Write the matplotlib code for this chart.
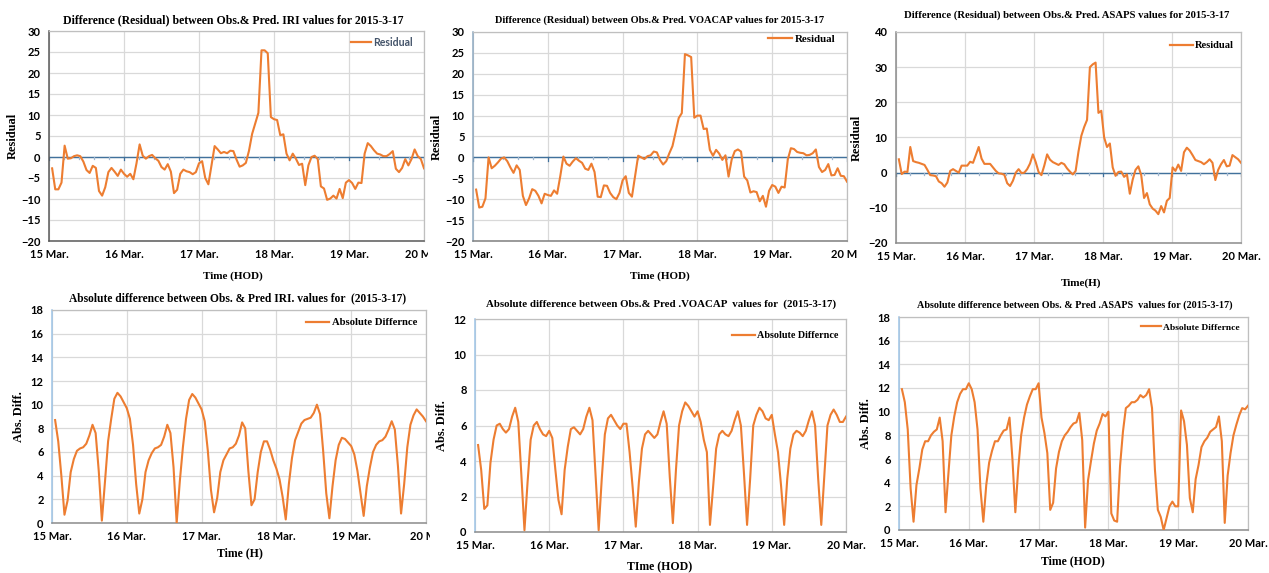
import numpy as np
import matplotlib
matplotlib.use("Agg")
import matplotlib.pyplot as plt
from matplotlib.transforms import Bbox

# ---------------- data ----------------
day_labels = ["15 Mar.", "16 Mar.", "17 Mar.", "18 Mar.", "19 Mar.", "20 Mar."]
day_labels_clip2 = ["15 Mar.", "16 Mar.", "17 Mar.", "18 Mar.", "19 Mar.", "20 Ma"]

iri_res = [-2.7, -7.7, -7.7, -6.1, 2.7, -0.4, -0.3, 0.2, 0.4, 0.2, -1.1, -3.1, -3.8, -2.1, -2.6,
           -8.1, -9.2, -7.2, -3.6, -2.6, -3.5, -4.5, -3.0, -4.0, -4.7, -4.0, -5.3, -1.5, 3.0, 0.3,
           -0.4, 0.2, 0.5, -0.3, -0.9, -2.4, -3.0, -1.7, -3.5, -8.6, -7.8, -4.0, -3.0, -3.4, -3.6,
           -4.1, -3.6, -1.5, -1.0, -5.0, -6.5, -2.0, 2.6, 1.8, 0.9, 1.2, 0.9, 1.5, 1.4, -0.6,
           -2.3, -2.0, -1.4, 1.5, 5.5, 8.0, 10.5, 25.4, 25.4, 24.7, 9.5, 9.0, 8.8, 5.2, 5.4,
           0.8, -0.8, 0.8, -0.4, -1.9, -1.6, -6.7, -2.0, 0.0, 0.3, -0.5, -7.0, -7.5, -10.2, -9.9,
           -9.2, -9.9, -7.6, -9.8, -6.1, -5.5, -6.2, -7.6, -6.1, -6.2, 0.8, 3.3, 2.6, 1.6, 0.8,
           0.6, 0.2, 0.2, 0.7, 1.4, -2.8, -3.6, -2.6, -0.5, -2.0, -0.5, 1.8, 0.2, -0.5, -2.7]

voacap_res = [-7.7, -12.0, -11.8, -9.8, 0.0, -2.6, -2.0, -1.2, -0.3, 0.0, -0.9, -2.4, -3.7, -1.9,
              -3.0, -9.2, -11.4, -9.8, -7.6, -8.0, -9.2, -11.0, -8.7, -9.0, -9.2, -7.9, -8.7, -4.5,
              0.2, -1.5, -2.0, -1.0, -0.2, -0.8, -1.3, -2.7, -3.0, -1.5, -3.5, -9.4, -9.5, -6.7,
              -6.8, -8.5, -9.5, -10.0, -8.5, -5.5, -4.5, -8.5, -9.4, -4.5, 0.4, 0.0, -0.4, 0.3,
              0.5, 1.4, 1.2, -0.6, -1.7, -0.9, 1.0, 2.7, 6.0, 9.4, 10.6, 24.7, 24.4, 24.0, 9.5,
              10.0, 10.0, 6.8, 6.9, 1.8, 0.4, 1.8, 0.9, -0.6, 0.5, -4.6, -0.5, 1.5, 1.9, 1.4,
              -4.6, -5.5, -8.4, -8.1, -8.3, -10.5, -9.2, -11.8, -8.0, -6.6, -7.0, -8.5, -7.0,
              -7.2, -0.5, 2.2, 2.0, 1.3, 1.1, 1.0, 0.5, 0.6, 1.0, 1.9, -2.3, -3.5, -3.0, -1.6,
              -4.3, -4.2, -2.6, -4.4, -4.5, -5.8]

asaps_res = [3.8, -0.4, 0.3, 0.2, 7.3, 3.3, 3.0, 2.8, 2.5, 2.2, 0.8, -0.7, -0.8, -1.0, -2.5, -3.0,
             -4.0, -2.8, 0.5, 1.0, 0.5, 0.0, 2.0, 2.0, 2.0, 3.1, 2.8, 5.0, 7.3, 4.0, 2.5, 2.5, 2.5,
             1.5, 0.5, -0.2, -0.3, -0.6, -3.0, -3.8, -2.3, 0.0, 1.0, -0.1, 0.0, 1.0, 2.6, 5.2,
             3.0, 0.2, -0.7, 2.0, 5.2, 3.7, 3.0, 2.6, 2.2, 2.8, 2.4, 1.2, 0.3, -0.5, 0.5, 6.0,
             10.5, 13.0, 15.0, 30.0, 30.8, 31.3, 17.0, 17.6, 10.0, 7.3, 8.3, 1.5, -0.9, 0.2, 0.3,
             -1.2, -0.5, -6.0, -2.0, 0.8, 1.8, -0.7, -7.2, -5.8, -9.0, -10.2, -10.8, -11.8, -9.5,
             -11.3, -8.0, -7.2, 1.5, 0.5, 2.3, 0.5, 5.8, 7.1, 6.3, 5.0, 3.6, 3.3, 3.0, 2.4, 3.0,
             3.8, 2.8, -2.1, 0.8, 2.4, 3.6, 1.8, 2.0, 5.0, 4.4, 3.8, 2.8]

iri_abs = [8.7, 6.9, 4.0, 0.7, 1.9, 4.3, 5.4, 6.1, 6.3, 6.4, 6.7, 7.4, 8.3, 7.6, 4.4, 0.2, 3.5,
           6.9, 8.8, 10.5, 11.0, 10.7, 10.2, 9.7, 8.8, 6.6, 3.3, 0.8, 2.0, 4.3, 5.3, 5.9, 6.3,
           6.4, 6.6, 7.3, 8.3, 7.6, 4.7, 0.0, 3.5, 6.4, 8.8, 10.4, 10.9, 10.6, 10.1, 9.6, 8.6,
           6.1, 2.8, 0.9, 2.1, 4.3, 5.3, 5.8, 6.3, 6.4, 6.7, 7.4, 8.5, 8.0, 4.4, 1.5, 2.0, 4.3,
           6.0, 6.9, 6.9, 6.2, 5.3, 4.6, 3.7, 2.2, 0.3, 3.3, 5.5, 7.0, 7.7, 8.4, 8.7, 8.8, 8.9,
           9.3, 10.0, 9.2, 6.1, 2.5, 0.4, 3.1, 5.3, 6.6, 7.2, 7.1, 6.8, 6.5, 5.8, 4.4, 2.5, 0.6,
           3.1, 4.7, 6.0, 6.6, 6.9, 7.0, 7.3, 7.9, 8.6, 7.9, 4.8, 0.8, 3.3, 6.4, 8.3, 9.1, 9.6,
           9.3, 9.0, 8.6]

voacap_abs = [4.9, 3.5, 1.3, 1.5, 3.9, 5.2, 6.0, 6.1, 5.8, 5.6, 5.8, 6.5, 7.0, 6.2, 3.2, 0.1,
              2.8, 5.2, 6.0, 6.2, 5.8, 5.5, 5.4, 5.7, 5.3, 3.5, 1.8, 1.0, 3.5, 4.8, 5.8, 5.9, 5.7,
              5.5, 5.8, 6.5, 7.0, 6.3, 3.2, 0.1, 3.0, 5.5, 6.4, 6.6, 6.3, 6.0, 5.8, 6.1, 6.1, 4.5,
              2.5, 0.3, 2.8, 4.7, 5.5, 5.7, 5.5, 5.3, 5.5, 6.2, 6.8, 6.1, 3.1, 0.5, 3.5, 6.0, 6.8,
              7.3, 7.1, 6.8, 6.5, 6.8, 6.2, 5.2, 4.5, 0.4, 2.5, 4.7, 5.5, 5.7, 5.5, 5.4, 5.7, 6.3,
              6.8, 6.0, 3.3, 0.4, 3.0, 6.0, 6.6, 7.0, 6.8, 6.4, 6.3, 6.6, 5.5, 4.5, 2.6, 0.4, 3.0,
              4.7, 5.5, 5.7, 5.6, 5.4, 5.7, 6.3, 6.8, 6.0, 3.0, 0.4, 3.2, 6.0, 6.6, 6.9, 6.6, 6.2,
              6.2, 6.5]

asaps_abs = [11.9, 10.8, 8.5, 3.5, 0.7, 3.8, 5.2, 6.8, 7.5, 7.5, 8.0, 8.3, 8.5, 9.5, 7.5, 1.5,
             4.8, 8.0, 9.6, 10.8, 11.5, 11.9, 11.9, 12.4, 11.9, 10.8, 8.5, 3.5, 0.7, 3.8, 5.7,
             6.7, 7.5, 7.5, 8.0, 8.4, 8.5, 9.5, 6.0, 1.5, 5.2, 8.0, 9.5, 10.6, 11.3, 11.9, 11.9,
             12.4, 9.5, 8.2, 6.5, 1.7, 2.3, 5.2, 6.6, 7.5, 8.0, 8.3, 8.7, 9.0, 9.1, 9.9, 7.6, 0.2,
             4.2, 5.8, 7.3, 8.4, 9.0, 9.8, 9.6, 10.0, 1.4, 0.8, 0.7, 5.4, 8.3, 10.3, 10.5, 10.8,
             10.8, 11.0, 11.4, 11.2, 11.4, 11.9, 10.3, 5.1, 1.7, 1.1, 0.0, 1.0, 2.0, 2.4, 2.0, 2.0,
             10.1, 9.2, 7.2, 2.7, 1.5, 4.3, 5.5, 7.0, 7.5, 7.8, 8.3, 8.5, 8.7, 9.6, 7.5, 0.6, 4.6,
             6.5, 8.0, 8.9, 9.7, 10.3, 10.2, 10.5]

# ---------------- figure ----------------
W, H = 1269, 573
fig = plt.figure(figsize=(W / 100, H / 100), dpi=100)
fig.patch.set_facecolor("white")

SERIF = ["Liberation Serif", "DejaVu Serif"]
SANS = ["Lato", "Liberation Sans", "DejaVu Sans"]
ORANGE = "#ED7D31"


def px_axes(x0, y0, x1, y1):
    return fig.add_axes([x0 / W, 1 - y1 / H, (x1 - x0) / W, (y1 - y0) / H])


def style(ax, ylim, ystep, labels, left_color, bottom_color, clip_px=None):
    ax.set_xlim(0, 120)
    ax.set_ylim(*ylim)
    ax.set_xticks(np.arange(0, 121, 24))
    ax.set_xticklabels(labels)
    ax.set_yticks(np.arange(ylim[0], ylim[1] + 0.01, ystep))
    ax.tick_params(length=0, pad=6)
    for lab in ax.get_xticklabels() + ax.get_yticklabels():
        lab.set_fontfamily(SANS)
        lab.set_fontweight("bold")
        lab.set_fontsize(8)
    ax.grid(True, color="#d9d9d9", lw=0.9)
    ax.set_axisbelow(True)
    for s in ["top", "right"]:
        ax.spines[s].set_color("#bfbfbf")
        ax.spines[s].set_linewidth(0.9)
    ax.spines["left"].set_color(left_color)
    ax.spines["left"].set_linewidth(1.1)
    ax.spines["bottom"].set_color(bottom_color)
    ax.spines["bottom"].set_linewidth(1.1)
    if clip_px is not None:
        bb = Bbox.from_extents(clip_px[0], 0, clip_px[1], H)
        for lab in ax.get_xticklabels():
            lab.set_clip_box(bb)
            lab.set_clip_on(True)


def zero_line(ax):
    ax.axhline(0, color="#41719C", lw=1.0, zorder=2)
    span = ax.get_ylim()[1] - ax.get_ylim()[0]
    for xv in np.arange(0, 120.01, 4.8):
        major = abs(xv / 24 - round(xv / 24)) < 1e-6
        h = span * (0.016 if major else 0.010)
        ax.plot([xv, xv], [-h, 0], color="#41719C" if major else "#9fb6cf", lw=0.9, zorder=2)


def add_legend(ax, label, right_px, top_px, color="black", family=SERIF, weight="bold", size=8.5, hl=2.2):
    leg = ax.legend([plt.Line2D([], [], color=ORANGE, lw=1.6)], [label],
                    loc="upper right", bbox_to_anchor=(right_px / W, 1 - top_px / H),
                    bbox_transform=fig.transFigure, frameon=False, borderpad=0,
                    borderaxespad=0, handlelength=hl, handletextpad=0.2,
                    prop={"family": family, "weight": weight, "size": size})
    for t in leg.get_texts():
        t.set_color(color)


def x_of(vals):
    return np.linspace(1, 120, len(vals))


def ttl(x, y, s, size):
    fig.text(x / W, 1 - y / H, s, ha="center", va="center", family=SERIF, weight="bold", fontsize=size)


# Panel 1: IRI residual
ax1 = px_axes(49, 31, 424, 241)
ax1.plot(x_of(iri_res), iri_res, color=ORANGE, lw=1.5, zorder=3)
style(ax1, (-20, 30), 5, day_labels, "#595959", "#595959", clip_px=(0, 428))
zero_line(ax1)
add_legend(ax1, "Residual", 413, 37, color="#44546A", family=SANS, weight="bold", size=7.6, hl=1.9)
ttl(233, 20, "Difference (Residual) between Obs.& Pred. IRI values for 2015-3-17", 8.5)
ax1.set_ylabel("Residual", family=SERIF, weight="bold", fontsize=9, labelpad=2)
ttl(233, 276, "Time (HOD)", 8)

# Panel 2: VOACAP residual
ax2 = px_axes(473, 32, 847, 241)
ax2.plot(x_of(voacap_res), voacap_res, color=ORANGE, lw=1.5, zorder=3)
style(ax2, (-20, 30), 5, day_labels_clip2, "#8EA9C1", "#7f7f7f", clip_px=(430, 857))
zero_line(ax2)
add_legend(ax2, "Residual", 835, 34, size=7.8)
ttl(660, 20, "Difference (Residual) between Obs.& Pred. VOACAP values for 2015-3-17", 7.5)
ax2.set_ylabel("Residual", family=SERIF, weight="bold", fontsize=9, labelpad=2)
ttl(660, 276, "Time (HOD)", 8)

# Panel 3: ASAPS residual
ax3 = px_axes(896, 32, 1241, 243)
ax3.plot(x_of(asaps_res), asaps_res, color=ORANGE, lw=1.5, zorder=3)
style(ax3, (-20, 40), 10, day_labels, "#8c8c8c", "#8c8c8c")
zero_line(ax3)
add_legend(ax3, "Residual", 1234, 41, size=7.6)
ttl(1067, 15, "Difference (Residual) between Obs.& Pred. ASAPS values for 2015-3-17", 7.7)
ax3.set_ylabel("Residual", family=SERIF, weight="bold", fontsize=9, labelpad=4)
ttl(1081, 283, "Time(H)", 8)

# Panel 4: IRI absolute difference
ax4 = px_axes(52, 310, 426, 523)
ax4.plot(x_of(iri_abs), iri_abs, color=ORANGE, lw=1.5, zorder=3)
style(ax4, (0, 18), 2, day_labels_clip2, "#9DC3E6", "#8c8c8c", clip_px=(0, 430))
add_legend(ax4, "Absolute Differnce", 417, 318, size=7.7)
ttl(238, 298, "Absolute difference between Obs. & Pred IRI. values for  (2015-3-17)", 8.3)
ax4.set_ylabel("Abs. Diff.", family=SERIF, weight="bold", fontsize=9, labelpad=4)
ttl(240, 553, "Time (H)", 8.5)

# Panel 5: VOACAP absolute difference
ax5 = px_axes(475, 319, 846, 532)
ax5.plot(x_of(voacap_abs), voacap_abs, color=ORANGE, lw=1.5, zorder=3)
style(ax5, (0, 12), 2, day_labels, "#9DC3E6", "#8c8c8c")
add_legend(ax5, "Absolute Differnce", 838, 331, size=7.3)
ttl(661, 304, "Absolute difference between Obs.& Pred .VOACAP  values for  (2015-3-17)", 7.8)
ax5.set_ylabel("Abs. Diff.", family=SERIF, weight="bold", fontsize=9, labelpad=4)
ttl(660, 567, "TIme (HOD)", 8.5)

# Panel 6: ASAPS absolute difference
ax6 = px_axes(899, 317, 1248, 530)
ax6.plot(x_of(asaps_abs), asaps_abs, color=ORANGE, lw=1.5, zorder=3)
style(ax6, (0, 18), 2, day_labels, "#9DC3E6", "#8c8c8c")
add_legend(ax6, "Absolute Differnce", 1240, 323, size=6.8)
ttl(1075, 305, "Absolute difference between Obs. & Pred .ASAPS  values for (2015-3-17)", 7.3)
ax6.set_ylabel("Abs. Diff.", family=SERIF, weight="bold", fontsize=9, labelpad=4)
ttl(1073, 561, "Time (HOD)", 8.5)

fig.savefig("out.png", dpi=100, facecolor="white")
